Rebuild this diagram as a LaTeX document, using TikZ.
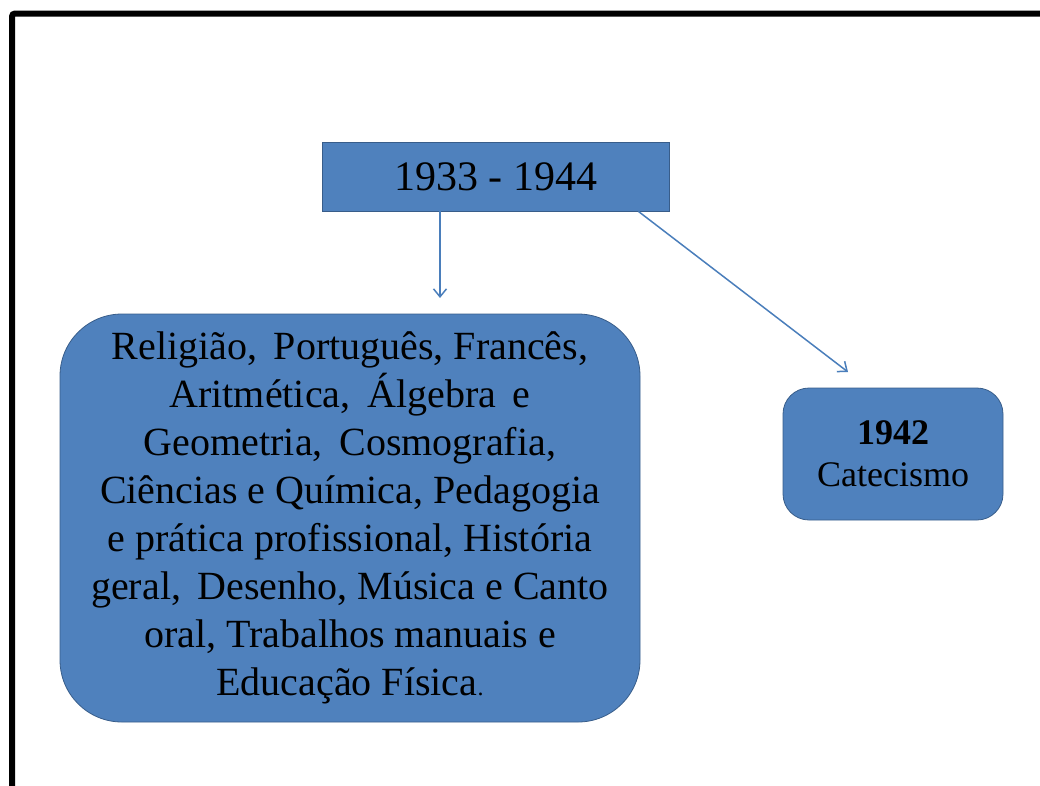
\documentclass[tikz,border=0pt]{standalone}
\usepackage{fontspec}
\setmainfont{Liberation Serif}
\usetikzlibrary{arrows.meta,positioning}

\definecolor{boxblue}{HTML}{4F81BD}
\definecolor{boxline}{HTML}{385D8A}
\definecolor{linkblue}{HTML}{4A7EBB}

\tikzset{
  yearbox/.style={draw=boxline,fill=boxblue,line width=0.8pt,minimum width=347pt,minimum height=69pt,inner sep=0pt,font=\fontsize{42}{48}\selectfont},
  subjbox/.style={draw=boxline,fill=boxblue,line width=0.8pt,rounded corners=#1,inner sep=0pt,align=center},
  link/.style={linkblue,line width=1.5pt,-{Straight Barb[length=8pt,width=13pt,line width=1.5pt]}}
}

\begin{document}
\begin{tikzpicture}[x=1pt,y=-1pt]
        \useasboundingbox (0,0) rectangle (1040,785);
        \draw[line width=6pt,rounded corners=3pt] (12,790) -- (12,13.5) -- (1045,13.5);

        \node[yearbox] (years) at (495.5,176.5) {1933 - 1944};

        \node[subjbox=62pt,minimum width=580pt,minimum height=408pt,font=\fontsize{40}{48}\selectfont] (subjects) at (350,518)
          {Religião,\, Português, Francês,\\ Aritmética,\, Álgebra\, e\\ Geometria,\, Cosmografia,\\ Ciências e Química, Pedagogia\\ e prática profissional, História\\ geral,\, Desenho, Música e Canto\\ oral, Trabalhos manuais e\\ Educação Física{\fontsize{24}{24}\selectfont.}};

        \node[subjbox=26pt,minimum width=220pt,minimum height=132pt,font=\fontsize{36}{42}\selectfont] (catechism) at (893,454)
          {\textbf{1942}\\ Catecismo};

        \coordinate (d1) at (440,298);
        \coordinate (d2) at (848,372);
        \draw[link] (years.south -| d1) -- (d1);
        \draw[link] ([xshift=-31pt]years.south east) -- (d2);
\end{tikzpicture}
\end{document}
